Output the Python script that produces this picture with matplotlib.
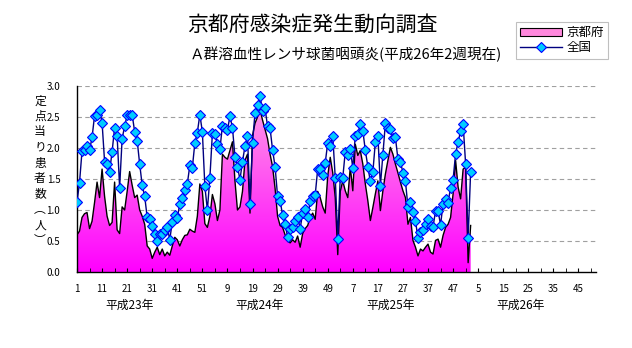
import matplotlib
matplotlib.use("Agg")
import matplotlib.pyplot as plt
import numpy as np
from matplotlib.patches import Polygon, Patch
from matplotlib.lines import Line2D
from matplotlib.colors import LinearSegmentedColormap

plt.rcParams['font.family'] = ['Noto Sans CJK JP', 'DejaVu Sans']

# 定点当り患者数 (week 1 of 2011 .. week 2 of 2014)
kyoto_h23 = [0.60, 0.66, 0.88, 0.94, 0.96, 0.70, 0.82, 1.12, 1.45, 1.20,
             1.66, 1.22, 0.90, 0.75, 0.80, 1.45, 0.68, 0.62, 1.05, 1.00,
             1.30, 1.62, 1.40, 1.20, 1.24, 1.00, 0.90, 0.77, 0.42, 0.37,
             0.22, 0.32, 0.40, 0.28, 0.37, 0.26, 0.32, 0.27, 0.42, 0.56,
             0.52, 0.42, 0.52, 0.59, 0.60, 0.69, 0.66, 0.64, 0.90, 1.42,
             1.30, 0.78]
kyoto_h24 = [0.72, 0.90, 1.25, 1.10, 0.83, 1.00, 1.90, 1.85, 1.82, 1.96,
             2.10, 1.47, 1.00, 1.05, 1.30, 1.80, 1.90, 0.95, 2.20, 2.40,
             2.50, 2.62, 2.45, 2.30, 2.15, 1.90, 1.70, 1.35, 0.90, 0.75,
             0.72, 0.60, 0.50, 0.47, 0.52, 0.48, 0.58, 0.40, 0.62, 0.70,
             0.75, 0.88, 0.95, 0.85, 1.30, 1.20, 1.05, 0.95, 1.55, 1.85,
             1.60, 1.20]
kyoto_h25 = [0.28, 1.30, 1.47, 1.31, 1.20, 1.69, 1.31, 2.06, 1.88, 1.96,
             1.74, 1.42, 1.15, 0.83, 1.04, 1.26, 1.47, 0.99, 1.31, 1.58,
             1.80, 2.01, 1.90, 1.74, 1.60, 1.45, 1.31, 1.20, 0.77, 0.88,
             0.51, 0.40, 0.26, 0.37, 0.34, 0.40, 0.45, 0.32, 0.29, 0.51,
             0.53, 0.40, 0.59, 0.72, 0.77, 0.88, 1.26, 1.80, 1.37, 1.18,
             1.66, 1.69]
kyoto_h26 = [0.15, 0.75]

zenkoku_h23 = [1.13, 1.44, 1.95, 1.96, 2.03, 1.96, 2.17, 2.52, 2.54, 2.61,
               2.41, 1.78, 1.75, 1.62, 1.94, 2.33, 2.20, 1.36, 2.15, 2.35,
               2.53, 2.53, 2.54, 2.26, 2.12, 1.74, 1.40, 1.22, 0.88, 0.86,
               0.75, 0.61, 0.50, 0.61, 0.61, 0.68, 0.73, 0.52, 0.81, 0.92,
               0.87, 1.10, 1.19, 1.33, 1.42, 1.72, 1.68, 2.08, 2.25, 2.54,
               2.26, 1.38]
zenkoku_h24 = [1.00, 1.52, 2.24, 2.22, 2.07, 1.98, 2.36, 2.33, 2.29, 2.51,
               2.33, 1.86, 1.70, 1.49, 1.78, 2.03, 2.20, 1.10, 2.08, 2.57,
               2.70, 2.84, 2.60, 2.64, 2.35, 2.32, 1.97, 1.70, 1.22, 1.15,
               0.92, 0.78, 0.56, 0.70, 0.73, 0.82, 0.89, 0.70, 0.95, 1.02,
               0.88, 1.14, 1.23, 1.24, 1.66, 1.66, 1.57, 1.76, 2.08, 2.03,
               2.20, 1.52]
zenkoku_h25 = [0.54, 1.53, 1.52, 1.94, 1.88, 1.98, 1.68, 2.20, 2.23, 2.38,
               2.28, 1.96, 1.70, 1.46, 1.61, 2.10, 2.20, 1.39, 1.89, 2.40,
               2.32, 2.30, 2.16, 2.17, 1.82, 1.78, 1.60, 1.46, 1.05, 1.13,
               0.96, 0.82, 0.55, 0.65, 0.68, 0.78, 0.86, 0.75, 0.73, 0.98,
               0.99, 0.76, 1.10, 1.18, 1.12, 1.36, 1.49, 1.91, 2.09, 2.28,
               2.39, 1.74]
zenkoku_h26 = [0.55, 1.62]

years = ['平成23年', '平成24年', '平成25年', '平成26年']
weeks_per_year = 52
week_tick_labels = ['1', '11', '21', '31', '41', '51', '9', '19', '29', '39', '49',
                    '7', '17', '27', '37', '47', '5', '15', '25', '35', '45']

kyoto = np.array(kyoto_h23 + kyoto_h24 + kyoto_h25 + kyoto_h26)
zenkoku = np.array(zenkoku_h23 + zenkoku_h24 + zenkoku_h25 + zenkoku_h26)
x = np.arange(len(kyoto))
n_weeks = weeks_per_year * len(years)

fig = plt.figure(figsize=(6.32, 3.48), dpi=100)
ax = fig.add_axes([77 / 632, 1 - 272 / 348, (596 - 77) / 632, (272 - 86) / 348])

# pink gradient area for 京都府
cmap = LinearSegmentedColormap.from_list('pk', ['#FF00FF', '#FFA8E4'])
grad = np.linspace(0, 1, 256).reshape(-1, 1)
im = ax.imshow(grad, extent=[0, n_weeks - 1, 0, 3], origin='lower', aspect='auto',
               cmap=cmap, zorder=1)
verts = [(0, 0)] + list(zip(x, kyoto)) + [(x[-1], 0)]
area = Polygon(verts, closed=True, facecolor='none', edgecolor='none')
ax.add_patch(area)
im.set_clip_path(area)
ax.plot(x, kyoto, color='black', lw=1.0, zorder=2)

# 全国
ax.plot(x, zenkoku, color='#000080', lw=1.0, marker='D', ms=5,
        mfc='#00CCFF', mec='#0000FF', mew=0.8, zorder=3)

ax.set_xlim(0, n_weeks - 1)
ax.set_ylim(0, 3.0)
ax.set_yticks(np.arange(0, 3.01, 0.5))
ax.set_yticklabels(['%.1f' % v for v in np.arange(0, 3.01, 0.5)], fontsize=7)
for v in np.arange(0.5, 3.01, 0.5):
    ax.axhline(v, color='#A0A0A0', lw=0.8, dashes=(4, 3), zorder=0)

ax.set_xticks(np.arange(0, 10 * len(week_tick_labels), 10))
ax.set_xticklabels(week_tick_labels, fontsize=7)
ax.set_xticks(np.arange(5, n_weeks, 10), minor=True)
ax.tick_params(axis='x', which='both', direction='in', length=3, pad=9)
ax.tick_params(axis='y', length=0, pad=12)
for s in ['top', 'right']:
    ax.spines[s].set_visible(False)
for s in ['left', 'bottom']:
    ax.spines[s].set_linewidth(1.0)

for i, yl in enumerate(years):
    ax.text(i * weeks_per_year + 21, -0.43, yl, ha='center', va='top', fontsize=8.5)

# vertical y label, one character per line
ylab = '定点当り患者数︵人︶'
for k, ch in enumerate(ylab):
    fig.text(40 / 632, 1 - (101 + 15.5 * k) / 348, ch, ha='center', va='center',
             fontsize=8.5)

fig.text(312 / 632, 1 - 25 / 348, '京都府感染症発生動向調査', ha='center', va='center',
         fontsize=15)
fig.text(346 / 632, 1 - 54 / 348, 'Ａ群溶血性レンサ球菌咽頭炎(平成26年2週現在)', ha='center',
         va='center', fontsize=10.5)

handles = [Patch(facecolor='#FF88DD', edgecolor='black', lw=0.8),
           Line2D([], [], color='#000080', lw=1.0, marker='D', ms=5, mfc='#00CCFF',
                  mec='#0000FF', mew=0.8)]
leg = fig.legend(handles, ['京都府', '全国'], loc='upper right',
                 bbox_to_anchor=(608 / 632, 1 - 22 / 348), fontsize=9, frameon=True,
                 fancybox=False, edgecolor='#B0B0B0', borderpad=0.35, labelspacing=0.15,
                 handlelength=3.4, handletextpad=0.3, borderaxespad=0)
leg.get_frame().set_linewidth(0.8)

fig.savefig('out.png', dpi=100)
